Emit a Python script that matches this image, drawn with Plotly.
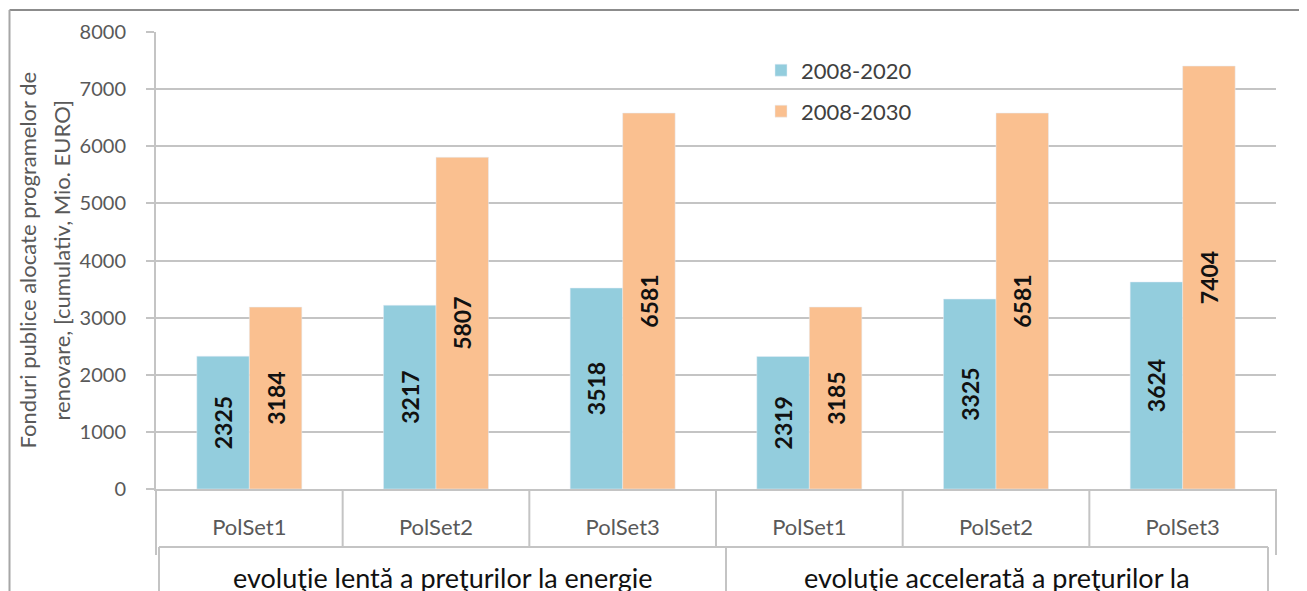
import plotly.graph_objects as go

# ---- data ----
categories = ["PolSet1", "PolSet2", "PolSet3", "PolSet1", "PolSet2", "PolSet3"]
groups = ["evoluţie lentă a preţurilor la energie", "evoluţie accelerată a preţurilor la"]
series_names = ["2008-2020", "2008-2030"]
values_2020 = [2325, 3217, 3518, 2319, 3325, 3624]
values_2030 = [3184, 5807, 6581, 3185, 6581, 7404]
y_ticks = [0, 1000, 2000, 3000, 4000, 5000, 6000, 7000, 8000]

BLUE = "#93CDDD"
ORANGE = "#FAC090"
GRID = "#C4C4C4"
FONT = "Lato"

OFF = 8  # browser default body margin
W, H = 1307 - OFF, 591 - OFF
# plot area in screen pixels
SX0, SX1, SY0, SY1 = 156, 1276, 31.6, 489
L, R = SX0 - OFF, W - (SX1 - OFF)
T, B = SY0 - OFF, H - (SY1 - OFF)
PW = SX1 - SX0
PH = SY1 - SY0

def px_x(px):
    return (px - SX0) / PW

def px_y(py):
    return (SY1 - py) / PH

xpos = list(range(len(categories)))

fig = go.Figure()
fig.add_trace(go.Bar(
    x=xpos, y=values_2020, name=series_names[0], marker_color=BLUE,
    text=[str(v) for v in values_2020], textposition="inside",
    insidetextanchor="middle", textangle=-90,
    textfont=dict(family=FONT, size=23, color="#111111", weight="bold"),
    legend="legend", showlegend=True,
))
fig.add_trace(go.Bar(
    x=xpos, y=values_2030, name=series_names[1], marker_color=ORANGE,
    text=[str(v) for v in values_2030], textposition="inside",
    insidetextanchor="middle", textangle=-90,
    textfont=dict(family=FONT, size=23, color="#111111", weight="bold"),
    legend="legend2", showlegend=True,
))

n = len(categories)
shapes = []
line = dict(color=GRID, width=2)
# category row dividers
for i in range(1, n):
    xp = i / n
    shapes.append(dict(type="line", xref="paper", yref="paper", x0=xp, x1=xp,
                       y0=0, y1=px_y(547), line=line))
# outer verticals extending further
for xp in (0, 1):
    shapes.append(dict(type="line", xref="paper", yref="paper", x0=xp, x1=xp,
                       y0=0, y1=px_y(555), line=line))
# group box
shapes.append(dict(type="line", xref="paper", yref="paper", x0=px_x(159), x1=px_x(1268),
                   y0=px_y(547), y1=px_y(547), line=line))
for gx in (159, 726, 1268):
    shapes.append(dict(type="line", xref="paper", yref="paper", x0=px_x(gx), x1=px_x(gx),
                       y0=px_y(547), y1=px_y(600), line=line))
# outer frame (as close to the page edge as the page margin allows)
FT, FL, FR = OFF + 1.5, OFF + 1.5, 1300
shapes.append(dict(type="line", xref="paper", yref="paper", x0=px_x(FL), x1=px_x(FR),
                   y0=px_y(FT), y1=px_y(FT), line=dict(color="#8C8C8C", width=2)))
shapes.append(dict(type="line", xref="paper", yref="paper", x0=px_x(FL), x1=px_x(FL),
                   y0=px_y(FT), y1=px_y(600), line=dict(color="#A6A6A6", width=2)))
shapes.append(dict(type="line", xref="paper", yref="paper", x0=px_x(FR), x1=px_x(FR),
                   y0=px_y(FT), y1=px_y(600), line=dict(color="#BDBDBD", width=2)))

annotations = []
# y-axis title (two lines)
title_lines = ["Fonduri publice alocate programelor de", "renovare, [cumulativ, Mio. EURO]"]
for txt, cx in zip(title_lines, (27, 61)):
    annotations.append(dict(text=txt, xref="paper", yref="paper", x=px_x(cx), y=0.5,
                            xanchor="center", yanchor="middle", textangle=-90,
                            showarrow=False,
                            font=dict(family=FONT, size=22, color="#595959")))
# group labels
for txt, cx in zip(groups, ((159 + 726) / 2, (726 + 1268) / 2)):
    annotations.append(dict(text=txt, xref="paper", yref="paper", x=px_x(cx), y=px_y(559),
                            xanchor="center", yanchor="top", showarrow=False,
                            font=dict(family=FONT, size=27, color="#111111")))

leg_common = dict(xanchor="left", yanchor="middle", bgcolor="rgba(0,0,0,0)",
                  font=dict(family=FONT, size=22, color="#404040"), itemwidth=30)
fig.update_layout(
    width=W, height=H,
    margin=dict(l=L, r=R, t=T, b=B),
    paper_bgcolor="white", plot_bgcolor="white",
    barmode="group", bargap=0.4375, bargroupgap=0,
    showlegend=True,
    shapes=shapes, annotations=annotations,
    legend=dict(x=px_x(761), y=px_y(70), **leg_common),
    legend2=dict(x=px_x(761), y=px_y(111), **leg_common),
    xaxis=dict(range=[-0.5, n - 0.5], tickvals=xpos, ticktext=categories,
               showgrid=False, zeroline=False, showline=True, linecolor=GRID, linewidth=2,
               ticks="", ticklabelstandoff=18,
               tickfont=dict(family=FONT, size=22, color="#595959")),
    yaxis=dict(range=[0, 8000], tickvals=y_ticks, showgrid=True, gridcolor=GRID, gridwidth=2,
               zeroline=False, showline=True, linecolor=GRID, linewidth=2,
               ticks="outside", ticklen=8, tickcolor=GRID, tickwidth=2,
               ticklabelstandoff=16,
               tickfont=dict(family=FONT, size=20, color="#595959")),
)

fig.write_html("out.html")
